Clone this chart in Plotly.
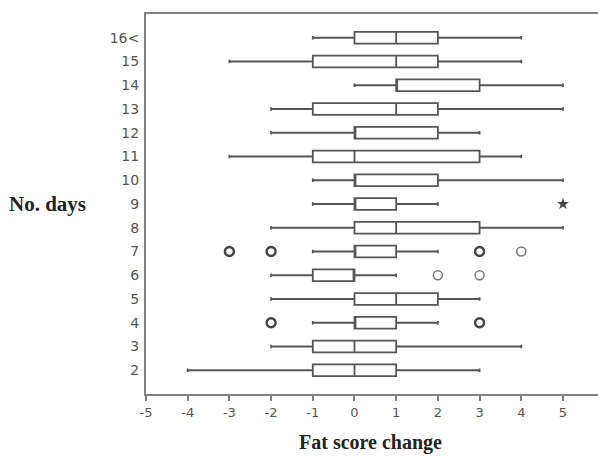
import plotly.graph_objects as go

# Fat score change by number of days (precomputed box statistics)
days = ["2", "3", "4", "5", "6", "7", "8", "9", "10", "11", "12", "13", "14", "15", "16<"]
lower = [-4, -2, -1, -2, -2, -1, -2, -1, -1, -3, -2, -2, 0, -3, -1]
q1 = [-1, -1, 0, 0, -1, 0, 0, 0, 0, -1, 0, -1, 1, -1, 0]
median = [0, 0, 0, 1, 0, 0, 1, 0, 0, 0, 0, 1, 1, 1, 1]
q3 = [1, 1, 1, 2, 0, 1, 3, 1, 2, 3, 2, 2, 3, 2, 2]
upper = [3, 4, 2, 3, 1, 2, 5, 2, 5, 4, 3, 5, 5, 4, 4]

# outliers: strong ring, light ring, extreme value
out_strong_day = ["4", "4", "7", "7", "7"]
out_strong_val = [-2, 3, -3, -2, 3]
out_light_day = ["6", "6", "7"]
out_light_val = [2, 3, 4]
extreme_day = ["9"]
extreme_val = [5]

xticks = [-5, -4, -3, -2, -1, 0, 1, 2, 3, 4, 5]

line_col = "#555555"
axis_col = "#808080"

fig = go.Figure()
fig.add_trace(go.Box(
    y=days, q1=q1, median=median, q3=q3,
    lowerfence=lower, upperfence=upper,
    orientation="h", boxpoints=False,
    fillcolor="white", line=dict(color=line_col, width=1.8),
    width=0.5, whiskerwidth=0.3, showlegend=False,
))
fig.add_trace(go.Scatter(
    x=out_strong_val, y=out_strong_day, mode="markers",
    marker=dict(symbol="circle-open", size=9, color="#444444", line=dict(width=2.4)),
    showlegend=False,
))
fig.add_trace(go.Scatter(
    x=out_light_val, y=out_light_day, mode="markers",
    marker=dict(symbol="circle-open", size=9, color="#777777", line=dict(width=1.5)),
    showlegend=False,
))
fig.add_trace(go.Scatter(
    x=extreme_val, y=extreme_day, mode="markers",
    marker=dict(symbol="star", size=9, color="#444444"),
    showlegend=False,
))

fig.update_layout(
    width=598, height=456,
    margin=dict(l=146, r=0, t=14, b=62),
    plot_bgcolor="white", paper_bgcolor="white",
    font=dict(family="DejaVu Sans", size=12, color="#555555"),
)
fig.update_xaxes(
    range=[-5, 5.84], tickvals=xticks, ticktext=[str(v) for v in xticks],
    showgrid=False, zeroline=False,
    showline=True, linecolor=axis_col, linewidth=2, mirror=True,
    ticks="outside", ticklen=5, tickcolor=axis_col, tickwidth=1.5,
    tickfont=dict(size=13, color="#555555"),
)
fig.update_yaxes(
    type="category", categoryorder="array", categoryarray=days,
    range=[-1, 15], showgrid=False, zeroline=False,
    showline=True, linecolor=axis_col, linewidth=2,
    ticks="", ticklabelstandoff=2,
    tickfont=dict(size=14, color="#555555"),
)
fig.add_annotation(
    text="<b>No. days</b>", xref="paper", yref="paper", x=-0.128, y=0.5,
    xanchor="right", yanchor="middle", showarrow=False,
    font=dict(family="Liberation Serif", size=21, color="#222222"),
)
fig.add_annotation(
    text="<b>Fat score change</b>", xref="paper", yref="paper", x=0.4956, y=-0.092,
    xanchor="center", yanchor="top", showarrow=False,
    font=dict(family="Liberation Serif", size=20, color="#222222"),
)

fig.write_html("out.html")
